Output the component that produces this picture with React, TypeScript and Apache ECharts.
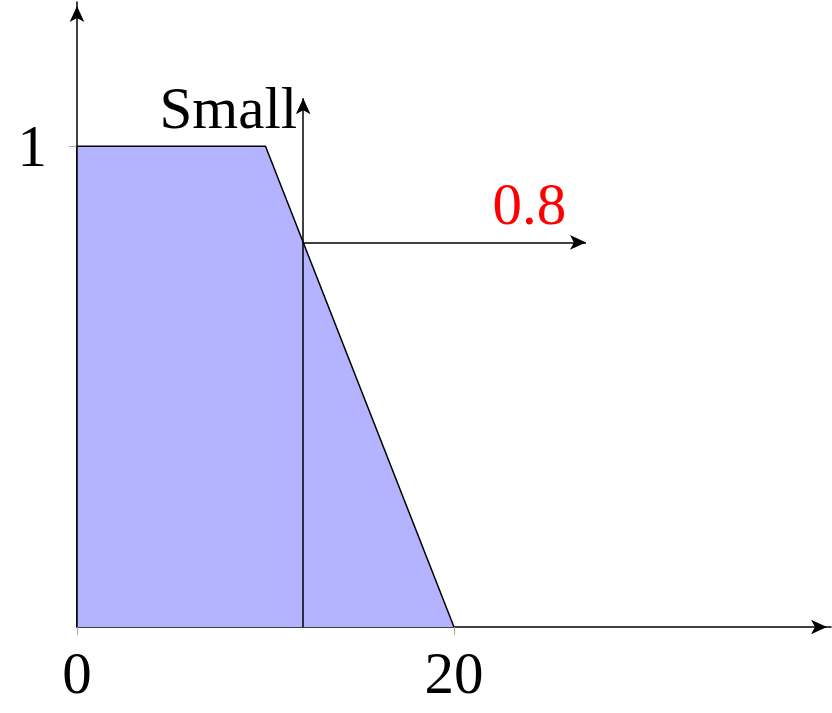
import React, { useEffect, useRef } from "react";
import * as echarts from "echarts";

const shapeX = [0, 0, 10, 20];
const shapeY = [0, 1, 1, 0];
const cutX = 12;
const cutY = 0.8;
const cutArrowTopY = 1.1;
const cutArrowEndX = 27;
const xTicks = [0, 20];
const yTicks = [1];
const setLabel = "Small";
const valueLabel = "0.8";

const FONT = "'Liberation Serif', 'DejaVu Serif', serif";
const FS = 59;

export default function App() {
  const ref = useRef<HTMLDivElement>(null);
  useEffect(() => {
    if (!ref.current) return;
    const chart = echarts.init(ref.current, null, { renderer: "svg" });
    const data = shapeX.map((x, i) => [x, shapeY[i]]);
    chart.setOption({
      animation: false,
      grid: { left: 77, right: 1, top: 2, bottom: 86 },
      xAxis: {
        type: "value",
        min: 0,
        max: 40,
        splitLine: { show: false },
        axisLine: {
          show: true,
          symbol: ["none", "arrow"],
          symbolSize: [11, 16],
          symbolOffset: [0, -4],
          lineStyle: { color: "#000", width: 1.5 },
        },
        axisTick: {
          show: true,
          customValues: xTicks,
          length: 8,
          lineStyle: { color: "#aaa", width: 1 },
        },
        axisLabel: {
          show: true,
          customValues: xTicks,
          margin: 16,
          fontSize: FS,
          fontFamily: FONT,
          color: "#000",
        },
      },
      yAxis: {
        type: "value",
        min: 0,
        max: 1.3,
        splitLine: { show: false },
        axisLine: {
          show: true,
          symbol: ["none", "arrow"],
          symbolSize: [11, 16],
          symbolOffset: [0, -4],
          lineStyle: { color: "#000", width: 1.5 },
        },
        axisTick: {
          show: true,
          customValues: yTicks,
          length: 8,
          lineStyle: { color: "#aaa", width: 1 },
        },
        axisLabel: {
          show: true,
          customValues: yTicks,
          margin: 30,
          fontSize: FS,
          fontFamily: FONT,
          color: "#000",
        },
      },
      series: [
        {
          type: "line",
          data,
          symbol: "none",
          lineStyle: { color: "#000", width: 1.5 },
          areaStyle: { color: "#b3b3ff", opacity: 1 },
          z: 2,
          markLine: {
            silent: true,
            symbol: ["none", "arrow"],
            symbolSize: [11, 16],
            label: { show: false },
            lineStyle: { color: "#000", width: 1.5, type: "solid" },
            data: [
              [{ coord: [cutX, 0] }, { coord: [cutX, cutArrowTopY] }],
              [{ coord: [cutX, cutY] }, { coord: [cutArrowEndX, cutY] }],
            ],
          },
          markPoint: {
            silent: true,
            symbol: "circle",
            symbolSize: 0,
            data: [
              {
                coord: [cutX, 1.079],
                label: {
                  show: true,
                  formatter: setLabel,
                  position: "left",
                  distance: 6,
                  fontSize: FS,
                  fontFamily: FONT,
                  color: "#000",
                },
              },
              {
                coord: [24, 0.88],
                label: {
                  show: true,
                  formatter: valueLabel,
                  position: "inside",
                  fontSize: FS,
                  fontFamily: FONT,
                  color: "#ff0000",
                },
              },
            ],
          },
        },
      ],
    });
    return () => chart.dispose();
  }, []);
  return (
    <div
      ref={ref}
      style={{ position: "absolute", left: 0, top: 0, width: 832, height: 713 }}
    />
  );
}
